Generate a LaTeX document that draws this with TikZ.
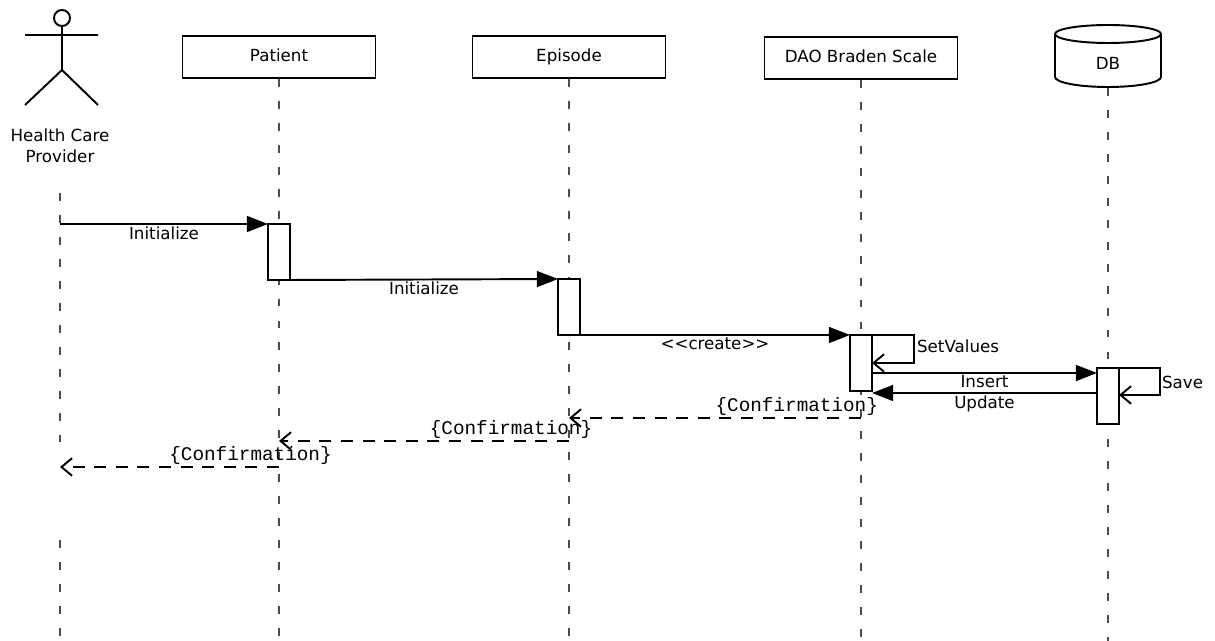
\documentclass[tikz,border=0pt]{standalone}
\usepackage{fontspec}
\setmainfont{DejaVu Sans}
\setmonofont{Liberation Mono}
\usetikzlibrary{arrows.meta}

\begin{document}
\begin{tikzpicture}[x=0.02cm,y=-0.02cm]
\tikzstyle{every node}=[inner sep=1pt, font=\fontsize{9.5}{12}\selectfont]
\tikzstyle{obj}=[draw, line width=1.1pt, minimum width=3.86cm, minimum height=0.84cm, inner sep=0pt, text height=0.75em, text depth=0.2em]
\tikzstyle{act}=[draw, fill=white, line width=1.1pt, minimum width=0.44cm, minimum height=1.12cm, inner sep=0pt, outer sep=0pt]
\tikzstyle{life}=[gray!60!black, line width=0.7pt, dash pattern=on 4.5pt off 8pt]
\tikzstyle{call}=[line width=1.1pt, -{Triangle[length=12pt,width=9pt]}]
\tikzstyle{self}=[line width=1.1pt, -{Straight Barb[length=6pt,width=10pt]}]
\tikzstyle{reply}=[line width=1.1pt, dash pattern=on 6.8pt off 5.5pt, -{Straight Barb[length=6pt,width=10pt]}]
\tikzstyle{mono}=[font=\fontsize{11}{12}\ttfamily]
\useasboundingbox (0,0) rectangle (1215,641);
% actor
\draw[line width=1.1pt] (62,18) circle (8);
\draw[line width=1.1pt] (25,35) -- (98,35) (62,26) -- (62,70) (25,105) -- (62,70) -- (98,105);
\draw (60,146) node (hcp) [align=center] {Health Care\\Provider};
% objects
\draw (279,57) node (patient) [obj] {Patient};
\draw (569,57) node (episode) [obj] {Episode};
\draw (861,58) node (dao) [obj] {DAO Braden Scale};
\draw[line width=1.1pt] (1108,34) ellipse (53 and 9);
\draw[line width=1.1pt] (1055,34) -- (1055,77) arc[start angle=180, end angle=0, x radius=53, y radius=10] -- (1161,34);
\draw (1108,63) node (db) {DB};
\coordinate (dbb) at (1108,88);
% lifelines
\draw[life] (60,193) -- (60,455);
\draw[life] (60,540) -- (60,641);
\draw[life] (patient.south) -- (279,641);
\draw[life] (episode.south) -- (569,641);
\draw[life] (dao.south) -- (861,641);
\draw[life] (dbb) -- (1108,641);
% activations
\draw (279,252) node (pa) [act] {};
\draw (569,307) node (ea) [act] {};
\draw (861,363) node (da) [act] {};
\draw (1108,396) node (dba) [act] {};
% messages
\draw[call] (60,224) -- (pa.north west) node[midway, below] {Initialize};
\draw[call] (pa.south east) -- (ea.north west) node[midway, below] {Initialize};
\draw[call] (ea.south east) -- (da.north west) node[midway, below] {<{}<create>{}>};
\draw[self] (da.north east) -- ++(42,0) -- ++(0,28) -- ++(-42,0);
\draw (915,346) node[anchor=west] {SetValues};
\draw[call] ([yshift=-0.2cm]da.east) -- ([yshift=-0.1cm]dba.north west) node[midway, below] {Insert};
\draw[call] ([yshift=0.06cm]dba.west) -- ([yshift=-0.6cm]da.east) node[midway, below] {Update};
\draw[self] (dba.north east) -- ++(41,0) -- ++(0,27) -- ++(-41,0);
\draw (1160,382) node[anchor=west] {Save};
\draw[reply] (dao |- 0,418) -- (episode |- 0,418) node[pos=0.22, above, mono] {\{Confirmation\}};
\draw[reply] (episode |- 0,441) -- (patient |- 0,441) node[pos=0.2, above, mono] {\{Confirmation\}};
\draw[reply] (patient |- 0,467) -- (hcp |- 0,467) node[pos=0.13, above, mono] {\{Confirmation\}};
\end{tikzpicture}
\end{document}
